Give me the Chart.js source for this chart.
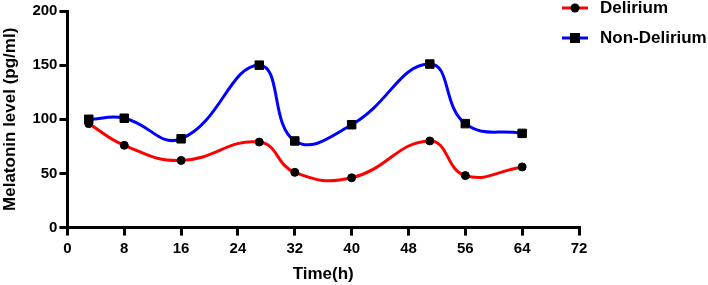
<!DOCTYPE html>
<html>
<head>
<meta charset="utf-8">
<script src="https://cdn.jsdelivr.net/npm/chart.js@4"></script>
<style>
  html, body { margin: 0; padding: 0; background: #fff; }
  #wrap { width: 708px; height: 285px; }
</style>
</head>
<body>
<div id="wrap"><canvas id="chart" width="708" height="285"></canvas></div>
<script>
// sampling times (h)
const hours = [3, 8, 16, 27, 32, 40, 51, 56, 64];
// melatonin levels (pg/ml)
const delirium = [96, 76, 62, 79, 51, 46, 80, 48, 56];
const nonDelirium = [100, 101, 82, 150, 80, 95, 151, 96, 87];

const xTicks = [0, 8, 16, 24, 32, 40, 48, 56, 64, 72];
const seriesNames = ["Delirium", "Non-Delirium"];

const FONT = "'Liberation Sans', Arial, sans-serif";

const toPoints = (ys) => hours.map((h, i) => ({ x: h, y: ys[i] }));

// legend drawn by hand: line sample with the marker in the middle
const legendPlugin = {
    id: "sideLegend",
    afterDraw(chart) {
        const ctx = chart.ctx;
        const items = chart.data.datasets;
        ctx.save();
        items.forEach((ds, i) => {
            const y = 8 + i * 30;
            ctx.strokeStyle = ds.borderColor;
            ctx.lineWidth = 3;
            ctx.beginPath();
            ctx.moveTo(562, y);
            ctx.lineTo(588, y);
            ctx.stroke();
            ctx.fillStyle = "#000";
            if (ds.pointStyle === "rect") {
                ctx.fillRect(575 - 5, y - 5, 10, 10);
            } else {
                ctx.beginPath();
                ctx.arc(575, y, 4.5, 0, Math.PI * 2);
                ctx.fill();
            }
            ctx.font = "bold 17px " + FONT;
            ctx.textBaseline = "middle";
            ctx.textAlign = "left";
            ctx.fillText(ds.label, 600, y);
        });
        ctx.restore();
    }
};

new Chart(document.getElementById("chart"), {
    type: "line",
    data: {
        datasets: [
            {
                label: seriesNames[0],
                data: toPoints(delirium),
                borderColor: "#ff0000",
                backgroundColor: "#000",
                pointBackgroundColor: "#000",
                pointBorderColor: "#000",
                pointBorderWidth: 1,
                pointStyle: "circle",
                pointRadius: 4,
                borderWidth: 3,
                tension: 0.45
            },
            {
                label: seriesNames[1],
                data: toPoints(nonDelirium),
                borderColor: "#0000ff",
                backgroundColor: "#000",
                pointBackgroundColor: "#000",
                pointBorderColor: "#000",
                pointBorderWidth: 1,
                pointStyle: "rect",
                pointRadius: 6,
                borderWidth: 3,
                tension: 0.45
            }
        ]
    },
    options: {
        responsive: false,
        animation: false,
        layout: { padding: { left: 0, right: 129, top: 1, bottom: 0 } },
        plugins: {
            legend: { display: false },
            tooltip: { enabled: false }
        },
        scales: {
            x: {
                type: "linear",
                min: 0,
                max: 72,
                afterBuildTicks: (axis) => { axis.ticks = xTicks.map(v => ({ value: v })); },
                grid: { drawOnChartArea: false, color: "#000", lineWidth: 3, tickLength: 8 },
                border: { color: "#000", width: 3 },
                ticks: { color: "#000", font: { family: FONT, size: 15, weight: "bold" }, padding: 4, maxRotation: 0 },
                title: { display: true, text: "Time(h)", color: "#000", font: { family: FONT, size: 17, weight: "bold" }, padding: { top: 3, bottom: 0 } }
            },
            y: {
                min: 0,
                max: 200,
                ticks: { stepSize: 50, color: "#000", font: { family: FONT, size: 15, weight: "bold" }, padding: 2 },
                grid: { drawOnChartArea: false, color: "#000", lineWidth: 3, tickLength: 8 },
                border: { color: "#000", width: 3 },
                title: { display: true, text: "Melatonin level (pg/ml)", color: "#000", font: { family: FONT, size: 17, weight: "bold" }, padding: { top: 0, bottom: 10 } }
            }
        }
    },
    plugins: [legendPlugin]
});
</script>
</body>
</html>
